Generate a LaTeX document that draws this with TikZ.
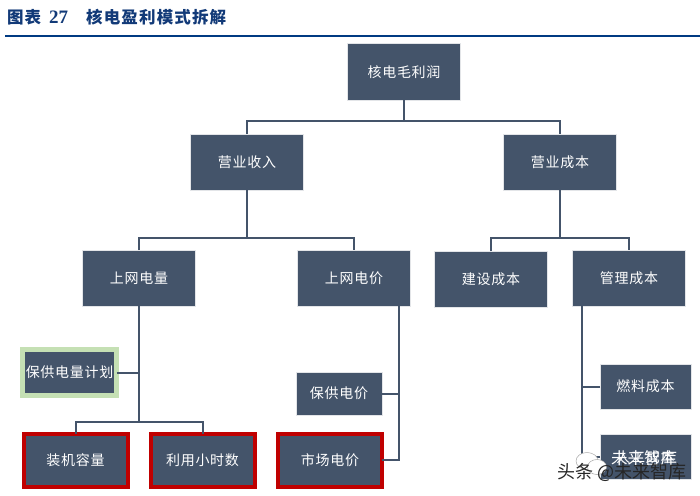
\documentclass[tikz,border=0pt]{standalone}
\usepackage{fontspec}
\usetikzlibrary{shapes.geometric}
\setmainfont{Liberation Serif}
\newfontfamily\cjkbox[LetterSpace=5]{Noto Sans CJK SC}
\newfontfamily\cjktitle[LetterSpace=7]{Noto Sans CJK SC}
\newfontfamily\cjkmark{Noto Sans CJK SC}
\definecolor{boxblue}{HTML}{44546A}
\definecolor{edgegrey}{HTML}{E3E5E8}
\definecolor{titleblue}{HTML}{123A78}
\definecolor{ruleblue}{HTML}{003A82}
\definecolor{redline}{HTML}{C00000}
\definecolor{greenline}{HTML}{C5E0B4}
\tikzset{
  every node/.style={inner sep=0pt,outer sep=0pt},
  bx/.style={fill=boxblue,draw=edgegrey,line width=1pt,text=white,align=center,
    font=\cjkbox\fontsize{14}{16}\selectfont},
  big/.style={bx,minimum width=113pt,minimum height=56pt},
  mid/.style={bx,minimum width=91pt,minimum height=45pt},
  redbox/.style={bx,draw=redline,line width=4pt,minimum width=104pt,minimum height=53pt},
  greenbox/.style={bx,draw=greenline,line width=5pt,minimum width=94pt,minimum height=46pt},
  link/.style={draw=boxblue,line width=2pt},
  markicon/.style={ellipse,fill=white,draw=black!35,line width=.5pt},
}
\begin{document}
\begin{tikzpicture}[x=1pt,y=-1pt]
\useasboundingbox (0,0) rectangle (700,495);
% title
\node[anchor=base west,text=titleblue,font=\cjktitle\bfseries\fontsize{16.5}{18}\selectfont] (title) at (7,23.5)
  {图表\hspace{8pt}{\fontspec{Liberation Serif}\bfseries\fontsize{19}{20}\selectfont 27}\hspace{18pt}核电盈利模式拆解};
\coordinate (ruleL) at (5,36);
\coordinate (ruleR) at (700,36);
\draw[draw=ruleblue,line width=2.6pt] (ruleL) -- (ruleR);
% boxes
\node[big] (top) at (404,72) {核电毛利润};
\node[big] (rev) at (247,162) {营业收入};
\node[big] (cost) at (560,162) {营业成本};
\node[big] (qty) at (139,278) {上网电量};
\node[big] (price) at (354,278) {上网电价};
\node[big] (build) at (491,279) {建设成本};
\node[big] (mgmt) at (629,278) {管理成本};
\node[greenbox] (plan) at (69.5,372.5) {保供电量计划};
\node[redbox] (cap) at (75.5,460) {装机容量};
\node[redbox] (hours) at (202.5,460) {利用小时数};
\node[redbox] (market) at (330,460) {市场电价};
\node[mid,minimum width=86pt,minimum height=43pt] (guar) at (339,393.5) {保供电价};
\node[mid] (fuel) at (645.5,386.5) {燃料成本};
\node[mid] (labor) at (645.5,457) {人工成本};
% connectors
\coordinate (b1) at (404,121);
\coordinate (b2) at (247,238);
\coordinate (b3) at (560,238);
\coordinate (b4) at (139,422);
\draw[link] (top.south) -- (b1);
\draw[link] (rev.north) |- (b1) -| (cost.north);
\draw[link] (rev.south) -- (b2);
\draw[link] (qty.north) |- (b2) -| (price.north);
\draw[link] (cost.south) -- (b3);
\draw[link] (build.north) |- (b3) -| (mgmt.north);
\coordinate (qtyS) at (139,306);
\draw[link] (qtyS) -- (b4);
\draw[link] (cap.north) |- (b4) -| (hours.north);
\draw[link] (plan.east) -- (plan.east -| b4);
\coordinate (priceS) at (399,306);
\draw[link] (priceS) |- (market.east);
\draw[link] (guar.east) -- (guar.east -| priceS);
\coordinate (mgmtS) at (582,306);
\draw[link] (mgmtS) |- (labor.west);
\draw[link] (fuel.west) -- (fuel.west -| mgmtS);
% watermark
\node[markicon,minimum width=22pt,minimum height=17pt] (wa) at (587,461) {};
\node[markicon,minimum width=19pt,minimum height=15pt] (wb) at (597,467) {};
\node[text=white,font=\cjkmark\fontsize{16.5}{19}\selectfont] (m1) at (644,458) {未来智库};
\node[anchor=base,text=black!85,font=\cjkmark\fontsize{18}{20}\selectfont] (m2) at (622,478) {头条 @未来智库};
\end{tikzpicture}
\end{document}
